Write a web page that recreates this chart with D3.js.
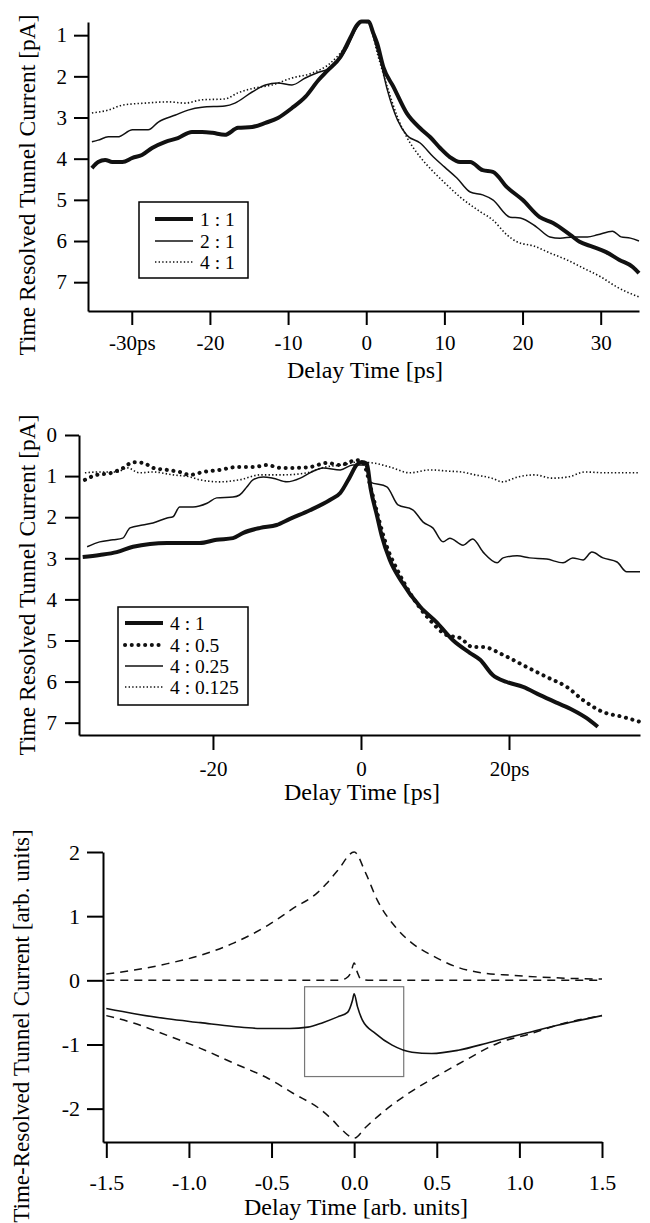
<!DOCTYPE html>
<html><head><meta charset="utf-8">
<script src="https://cdn.jsdelivr.net/npm/d3@7"></script>
<style>
body{margin:0;background:#fff}
svg{display:block}
text{font-family:"Liberation Serif","Times New Roman",serif;fill:#000}
</style>
</head><body>
<svg id="c" width="650" height="1223"></svg>
<script>
// ---------- Panel 1 data: delay [ps], current [pA] ----------
const p1Ratio11 = [[-35.1,4.23],[-34.3,4.08],[-33.4,4.03],[-32.5,4.08],[-31.2,4.08],[-29.9,3.98],[-28.7,3.91],[-27.4,3.74],[-25.7,3.59],[-24.1,3.5],[-22.3,3.35],[-21.0,3.35],[-19.7,3.37],[-18.1,3.42],[-16.4,3.25],[-14.6,3.23],[-12.9,3.13],[-11.3,3.01],[-9.5,2.77],[-7.8,2.5],[-6.1,2.09],[-4.9,1.85],[-3.3,1.53],[-2.0,1.05],[-1.2,0.76],[-0.6,0.67],[0.3,0.67],[0.9,0.95],[1.4,1.2],[2.2,1.78],[3.5,2.26],[5.2,2.9],[6.9,3.26],[8.2,3.48],[9.45,3.74],[10.7,3.96],[12.0,4.08],[13.3,4.08],[14.9,4.28],[16.2,4.32],[18.0,4.69],[20.0,5.0],[22.2,5.42],[23.9,5.56],[26.1,5.85],[27.3,6.02],[29.0,6.14],[30.7,6.27],[32.4,6.46],[34.1,6.63],[34.9,6.78]];
const p1Ratio21 = [[-35.1,3.59],[-34.3,3.55],[-33.0,3.47],[-31.8,3.47],[-29.9,3.3],[-27.9,3.3],[-26.6,3.11],[-24.4,2.94],[-22.8,2.82],[-21.0,2.75],[-18.1,2.72],[-16.8,2.65],[-14.6,2.38],[-12.9,2.21],[-11.3,2.16],[-9.5,2.21],[-7.8,2.04],[-6.1,1.9],[-4.6,1.8],[-2.4,1.29],[-1.4,0.88],[-0.5,0.68],[0.3,0.7],[1.0,1.1],[1.8,1.61],[2.7,2.33],[4.0,3.06],[5.2,3.43],[6.9,3.62],[8.6,3.96],[10.0,4.2],[11.6,4.47],[13.3,4.81],[14.9,4.88],[16.2,5.0],[18.4,5.42],[19.7,5.44],[21.8,5.66],[23.5,5.9],[24.8,5.93],[26.5,5.9],[28.3,5.9],[29.6,5.85],[31.5,5.76],[32.6,5.9],[33.8,5.93],[34.9,6.0]];
const p1Ratio41 = [[-35.1,2.89],[-33.0,2.82],[-31.2,2.7],[-28.3,2.65],[-25.3,2.62],[-23.2,2.65],[-21.0,2.57],[-18.1,2.55],[-16.4,2.4],[-14.2,2.28],[-12.1,2.21],[-9.5,2.04],[-6.9,1.92],[-4.6,1.68],[-2.4,1.2],[-1.2,0.8],[-0.5,0.68],[0.3,0.7],[1.5,1.5],[2.7,2.26],[4.0,2.99],[5.2,3.48],[6.9,3.96],[8.5,4.3],[10.0,4.58],[12.0,4.93],[14.6,5.29],[16.2,5.49],[18.0,5.85],[19.3,6.02],[21.4,6.12],[23.5,6.29],[25.7,6.46],[27.8,6.66],[30.0,6.87],[32.1,7.12],[34.9,7.36]];
const p1XTicks = [-30,-20,-10,0,10,20,30];
const p1XLabels = ["-30ps","-20","-10","0","10","20","30"];
const p1YTicks = [1,2,3,4,5,6,7];
const p1Legend = ["1 : 1","2 : 1","4 : 1"];

// ---------- Panel 2 data ----------
const p2Ratio4_1 = [[-37.6,2.97],[-35.3,2.92],[-33.0,2.85],[-30.8,2.72],[-28.5,2.65],[-26.2,2.63],[-24.1,2.63],[-21.8,2.63],[-19.5,2.55],[-17.3,2.51],[-15.9,2.38],[-13.6,2.26],[-11.4,2.19],[-9.6,2.04],[-6.9,1.83],[-4.2,1.58],[-2.8,1.41],[-1.5,1.02],[-0.6,0.73],[0.1,0.66],[0.8,0.7],[1.3,1.3],[2.2,1.99],[2.8,2.45],[3.9,3.04],[5.5,3.57],[8.0,4.18],[10.3,4.57],[12.4,4.99],[14.7,5.3],[16.1,5.47],[17.8,5.84],[19.7,6.01],[21.9,6.13],[24.2,6.33],[26.5,6.52],[28.6,6.69],[30.5,6.89],[32.0,7.1]];
const p2Ratio4_05 = [[-37.3,1.09],[-35.7,0.97],[-33.9,0.93],[-32.1,0.80],[-30.8,0.66],[-29.4,0.68],[-28.1,0.80],[-26.2,0.85],[-24.5,0.9],[-23.1,0.97],[-21.3,0.9],[-19.1,0.85],[-16.8,0.78],[-14.6,0.78],[-12.7,0.73],[-10.9,0.8],[-9.2,0.8],[-6.9,0.78],[-4.6,0.68],[-2.8,0.73],[-0.6,0.61],[0.2,0.66],[1.5,1.41],[2.2,1.9],[3.5,2.72],[4.9,3.28],[6.6,3.84],[9.3,4.5],[11.6,4.87],[13.4,4.94],[15.1,5.16],[16.5,5.16],[19.2,5.35],[21.9,5.6],[25.1,5.89],[27.8,6.13],[30.0,6.45],[32.7,6.74],[35.4,6.86],[37.7,6.98]];
const p2Ratio4_025 = [[-37.0,2.72],[-35.3,2.6],[-33.5,2.55],[-32.2,2.51],[-31.2,2.26],[-29.5,2.19],[-28.1,2.14],[-26.2,2.02],[-25.4,1.99],[-24.5,1.75],[-22.7,1.75],[-20.8,1.66],[-19.5,1.53],[-17.3,1.51],[-16.4,1.46],[-15.4,1.26],[-14.6,1.09],[-13.2,1.02],[-11.9,1.05],[-10.0,1.14],[-8.2,1.05],[-6.9,0.92],[-5.1,0.80],[-2.8,0.85],[-1.1,0.73],[0.5,0.73],[1.2,1.14],[3.5,1.26],[5.0,1.7],[7.0,1.82],[8.4,2.12],[9.7,2.26],[11.1,2.6],[12.0,2.51],[13.8,2.68],[15.1,2.53],[16.5,2.85],[18.4,3.11],[19.2,2.99],[21.1,2.94],[22.8,2.99],[25.1,3.02],[27.3,3.11],[28.6,2.99],[30.0,3.04],[31.2,2.85],[32.7,2.99],[34.6,3.09],[35.9,3.33],[37.7,3.33]];
const p2Ratio4_0125 = [[-37.3,0.92],[-35.3,0.9],[-33.0,0.9],[-31.6,0.8],[-29.9,0.92],[-28.1,0.9],[-25.4,0.97],[-23.1,1.02],[-21.8,1.09],[-19.1,1.14],[-16.4,1.09],[-13.6,0.97],[-10.5,0.97],[-7.3,0.92],[-4.9,0.78],[-2.6,0.73],[-0.4,0.66],[1.6,0.68],[3.9,0.78],[6.6,0.92],[9.3,0.85],[11.9,0.88],[13.6,0.9],[15.4,0.97],[17.7,1.05],[19.1,1.14],[21.2,1.02],[23.5,0.97],[25.8,1.05],[28.0,1.02],[30.3,0.9],[33.0,0.92],[35.7,0.92],[37.4,0.92]];
const p2XTicks = [-20,0,20];
const p2XLabels = ["-20","0","20ps"];
const p2YTicks = [0,1,2,3,4,5,6,7];
const p2Legend = ["4 : 1","4 : 0.5","4 : 0.25","4 : 0.125"];

// ---------- Panel 3 data (arb. units) ----------
const p3Upper = [[-1.5,0.1],[-1.33,0.16],[-1.13,0.26],[-0.93,0.39],[-0.73,0.58],[-0.52,0.86],[-0.37,1.12],[-0.22,1.37],[-0.17,1.5],[-0.1,1.71],[0,2.0],[0.07,1.67],[0.14,1.25],[0.25,0.83],[0.35,0.58],[0.47,0.39],[0.63,0.2],[0.79,0.11],[0.95,0.08],[1.13,0.05],[1.31,0.03],[1.5,0.02]];
const p3Middle = [[-1.5,0],[-0.1,0],[-0.05,0.03],[-0.02,0.12],[0,0.27],[0.02,0.12],[0.04,0.02],[0.1,0],[1.5,0]];
const p3Lower = [[-1.5,-0.55],[-1.33,-0.67],[-1.13,-0.86],[-0.93,-1.06],[-0.73,-1.29],[-0.52,-1.53],[-0.37,-1.76],[-0.2,-2.02],[-0.13,-2.18],[-0.07,-2.34],[0,-2.46],[0.07,-2.29],[0.19,-2.02],[0.33,-1.76],[0.49,-1.51],[0.67,-1.25],[0.87,-0.98],[1.07,-0.83],[1.27,-0.67],[1.5,-0.55]];
const p3Solid = [[-1.5,-0.44],[-1.33,-0.52],[-1.13,-0.6],[-0.93,-0.66],[-0.73,-0.72],[-0.57,-0.75],[-0.39,-0.75],[-0.28,-0.73],[-0.19,-0.66],[-0.1,-0.57],[-0.04,-0.5],[-0.01,-0.31],[0,-0.21],[0.02,-0.41],[0.05,-0.62],[0.13,-0.83],[0.23,-1.01],[0.35,-1.12],[0.47,-1.14],[0.63,-1.09],[0.83,-0.96],[1.03,-0.83],[1.23,-0.7],[1.5,-0.55]];
const p3Box = [-0.3, 0.3, -0.1, -1.5];
const p3XTicks = [-1.5,-1.0,-0.5,0,0.5,1.0,1.5];
const p3XLabels = ["-1.5","-1.0","-0.5","0.0","0.5","1.0","1.5"];
const p3YTicks = [-2,-1,0,1,2];
const p3YLabels = ["-2","-1","0","1","2"];

// ---------- drawing ----------
const svg = d3.select("#c");
const FONT = '"Liberation Serif","Times New Roman",serif';

function drawAxes(x, y, xt, xl, yt, yl, c) {
  const yBottom = Math.max(...y.range());
  const xLeft = Math.min(...x.range());
  const gx = svg.append("g").attr("transform", `translate(0,${yBottom})`)
    .call(d3.axisBottom(x).tickValues(xt).tickFormat((d,i)=>xl[i]).tickSize(c.xts).tickPadding(c.xtp).tickSizeOuter(0));
  const gy = svg.append("g").attr("transform", `translate(${xLeft},0)`)
    .call(d3.axisLeft(y).tickValues(yt).tickFormat((d,i)=>yl ? yl[i] : String(d)).tickSize(c.yts).tickPadding(c.ytp).tickSizeOuter(0));
  [gx, gy].forEach(g => {
    g.attr("font-family", FONT).attr("font-size", c.fs);
    g.selectAll("path.domain").attr("stroke", "#000").attr("stroke-width", 2);
    g.selectAll(".tick line").attr("stroke", "#000").attr("stroke-width", 2);
    g.selectAll(".tick text").attr("fill", "#000");
  });
}

function drawLine(x, y, data, style) {
  const gen = d3.line().x(d => x(d[0])).y(d => y(d[1])).curve(d3.curveMonotoneX);
  svg.append("path").datum(data).attr("d", gen)
    .attr("fill", "none").attr("stroke", "#111")
    .attr("stroke-width", style.w)
    .attr("stroke-dasharray", style.dash || null)
    .attr("stroke-linecap", style.cap || "butt")
    .attr("stroke-linejoin", "round");
}

function title(txt, x, y, size, rot) {
  const t = svg.append("text").text(txt).attr("font-size", size).attr("text-anchor", "middle");
  if (rot) t.attr("transform", `translate(${x},${y}) rotate(-90)`);
  else t.attr("x", x).attr("y", y);
}

function legend(box, rows, styles, labels) {
  svg.append("rect").attr("x", box[0]).attr("y", box[1]).attr("width", box[2]).attr("height", box[3])
    .attr("fill", "#fff").attr("stroke", "#000").attr("stroke-width", 1.5);
  rows.forEach((ry, i) => {
    const s = styles[i];
    svg.append("line").attr("x1", box[4]).attr("x2", box[5]).attr("y1", ry).attr("y2", ry)
      .attr("stroke", "#111").attr("stroke-width", s.w)
      .attr("stroke-dasharray", s.dash || null).attr("stroke-linecap", s.cap || "butt");
    svg.append("text").attr("x", box[6]).attr("y", ry + 6.5).attr("font-size", 19.5).text(labels[i]);
  });
}

const thick = {w: 4};
const thin = {w: 1.5};
const fineDot = {w: 1.6, dash: "1.4,2.2"};
const bigDot = {w: 4, dash: "0.1,6.6", cap: "round"};
const dashed = {w: 1.5, dash: "8,6"};

// Panel 1
const x1 = d3.scaleLinear().domain([-35.6, 34.9]).range([88, 639]);
const y1 = d3.scaleLinear().domain([0.68, 7.7]).range([22, 311]);
drawLine(x1, y1, p1Ratio41, fineDot);
drawLine(x1, y1, p1Ratio21, thin);
drawLine(x1, y1, p1Ratio11, thick);
drawAxes(x1, y1, p1XTicks, p1XLabels, p1YTicks, null, {xts:14, xtp:10, yts:14, ytp:7, fs:21});
legend([139, 202, 109, 76, 155, 193, 200], [219, 241, 262], [thick, thin, fineDot], p1Legend);
title("Delay Time [ps]", 365, 378, 24, false);
title("Time Resolved Tunnel Current [pA]", 35, 185, 23.5, true);

// Panel 2
const x2 = d3.scaleLinear().domain([-38.1, 37.7]).range([79, 640]);
const y2 = d3.scaleLinear().domain([0, 7.3]).range([435, 735]);
drawLine(x2, y2, p2Ratio4_0125, fineDot);
drawLine(x2, y2, p2Ratio4_025, thin);
drawLine(x2, y2, p2Ratio4_1, thick);
drawLine(x2, y2, p2Ratio4_05, bigDot);
drawAxes(x2, y2, p2XTicks, p2XLabels, p2YTicks, null, {xts:15, xtp:11, yts:14, ytp:8, fs:21});
legend([118, 607, 130, 98, 125, 163, 170], [623, 645, 666, 687], [thick, bigDot, thin, fineDot], p2Legend);
title("Delay Time [ps]", 362, 800, 24, false);
title("Time Resolved Tunnel Current [pA]", 35, 585, 23.5, true);

// Panel 3
const x3 = d3.scaleLinear().domain([-1.52, 1.5]).range([103, 602]);
const y3 = d3.scaleLinear().domain([-2.52, 2]).range([1142, 852]);
svg.append("rect")
  .attr("x", x3(p3Box[0])).attr("y", y3(p3Box[2]))
  .attr("width", x3(p3Box[1]) - x3(p3Box[0])).attr("height", y3(p3Box[3]) - y3(p3Box[2]))
  .attr("fill", "none").attr("stroke", "#777").attr("stroke-width", 1.2);
drawLine(x3, y3, p3Upper, dashed);
drawLine(x3, y3, p3Middle, dashed);
drawLine(x3, y3, p3Lower, dashed);
drawLine(x3, y3, p3Solid, {w: 1.6});
drawAxes(x3, y3, p3XTicks, p3XLabels, p3YTicks, p3YLabels, {xts:16, xtp:16, yts:16, ytp:7, fs:22});
title("Delay Time [arb. units]", 356, 1215, 24, false);
title("Time-Resolved Tunnel Current [arb. units]", 29, 1026, 23, true);
</script>
</body></html>
